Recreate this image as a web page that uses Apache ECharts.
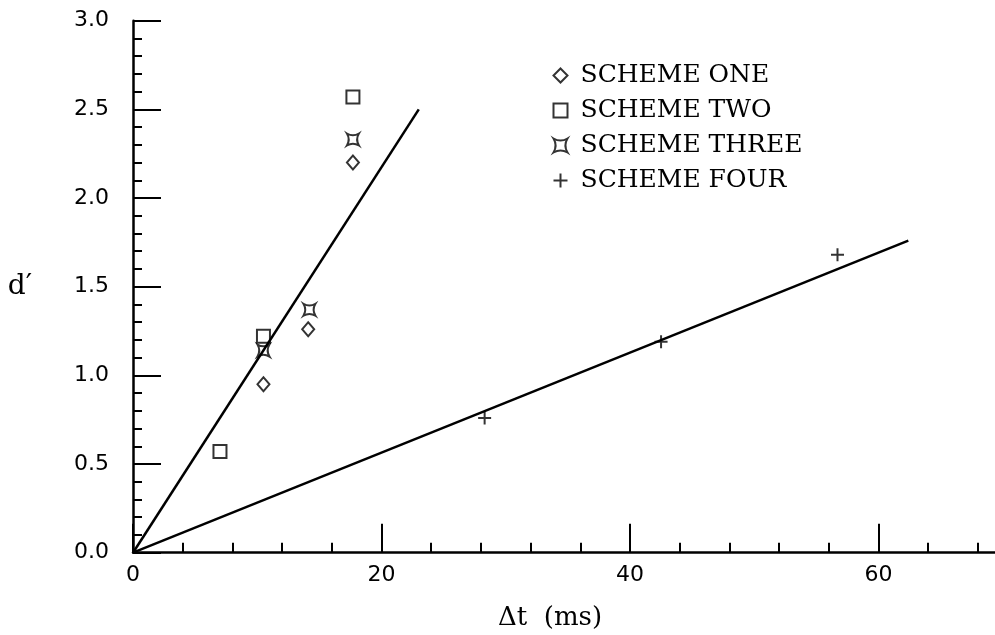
<!DOCTYPE html>
<html style="height: 100%">
  <head>
    <meta charset="utf-8" />
    <title>d' vs dt</title>
    <script src="https://cdn.jsdelivr.net/npm/echarts@6/dist/echarts.min.js"></script>
  </head>
  <body style="height: 100%; margin: 0; background: #fff">
    <div id="main" style="width: 995px; height: 635px"></div>
    <script type="text/javascript">
      // data: [dt (ms), d']
      var schemeOne = [[10.5, 0.95], [14.1, 1.26], [17.7, 2.2]];
      var schemeTwo = [[7.0, 0.57], [10.5, 1.22], [17.7, 2.57]];
      var schemeThree = [[10.5, 1.14], [14.2, 1.37], [17.7, 2.33]];
      var schemeFour = [[28.3, 0.76], [42.5, 1.19], [56.7, 1.68]];
      // the two fitted lines
      var fitSteep = [[0, 0], [23.0, 2.5]];
      var fitShallow = [[0, 0], [62.4, 1.76]];
      var names = ["SCHEME ONE", "SCHEME TWO", "SCHEME THREE", "SCHEME FOUR"];

      var myChart = echarts.init(document.getElementById("main"));

      var starPath = "path://M0 0 Q5 3 10 0 Q7 5 10 10 Q5 7 0 10 Q3 5 0 0 Z";
      var plusPath = "path://M5 0 L5 10 M0 5 L10 5";

      var hollow = { color: "none", borderColor: "#000", borderWidth: 2 };

      function pointSeries(name, data, symbol, size) {
        return {
          name: name,
          type: "scatter",
          data: data,
          symbol: symbol,
          symbolSize: size,
          itemStyle: hollow,
          emphasis: { disabled: true },
          z: 3,
        };
      }

      function fitSeries(data) {
        return {
          type: "line",
          data: data,
          symbol: "none",
          lineStyle: { color: "#000", width: 2.5 },
          silent: true,
          z: 2,
        };
      }

      var option = {
        animation: false,
        backgroundColor: "#fff",
        grid: {
          left: 133,
          top: 20.7,
          width: 994,
          height: 532,
          outerBoundsMode: "none",
          containLabel: false,
        },
        legend: {
          data: names,
          orient: "vertical",
          left: 546,
          top: 58,
          itemWidth: 14,
          itemHeight: 14,
          itemGap: 10,
          itemStyle: hollow,
          textStyle: { fontFamily: "DejaVu Serif", fontSize: 25, color: "#000", padding: [0, 0, 0, 8] },
          selectedMode: false,
        },
        xAxis: {
          type: "value",
          min: 0,
          max: 80,
          interval: 20,
          name: "Δt  (ms)",
          nameLocation: "middle",
          nameGap: 53,
          nameTextStyle: { fontFamily: "DejaVu Serif", fontSize: 26, color: "#000", padding: [0, 160, 0, 0] },
          axisLine: { lineStyle: { color: "#000", width: 2.5 } },
          axisTick: { inside: true, length: 29, lineStyle: { color: "#000", width: 2 } },
          minorTick: { show: true, splitNumber: 5, length: 10, lineStyle: { color: "#000", width: 2 } },
          axisLabel: { fontFamily: "DejaVu Sans", fontSize: 22, color: "#000", margin: 12, showMaxLabel: false },
          splitLine: { show: false },
        },
        yAxis: {
          type: "value",
          min: 0,
          max: 3,
          interval: 0.5,
          name: "d′",
          nameLocation: "middle",
          nameRotate: 0,
          nameGap: 101,
          nameTextStyle: { fontFamily: "DejaVu Serif", fontSize: 28, color: "#000", padding: [0, 0, 40, 0] },
          axisLine: { lineStyle: { color: "#000", width: 2.5 } },
          axisTick: { inside: true, length: 28, lineStyle: { color: "#000", width: 2 } },
          minorTick: { show: true, splitNumber: 5, length: 9, lineStyle: { color: "#000", width: 2 } },
          axisLabel: {
            fontFamily: "DejaVu Sans",
            fontSize: 22,
            color: "#000",
            margin: 24,
            formatter: function (v) {
              return v.toFixed(1);
            },
          },
          splitLine: { show: false },
        },
        series: [
          fitSeries(fitSteep),
          fitSeries(fitShallow),
          pointSeries(names[0], schemeOne, "diamond", [12, 14]),
          pointSeries(names[1], schemeTwo, "rect", 13),
          pointSeries(names[2], schemeThree, starPath, 12),
          pointSeries(names[3], schemeFour, plusPath, 13),
        ],
      };

      myChart.setOption(option, true);
    </script>
  </body>
</html>
